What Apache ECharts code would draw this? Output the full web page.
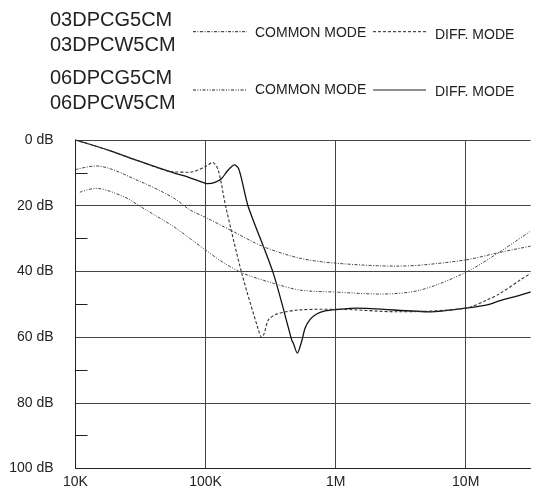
<!DOCTYPE html>
<html>
<head>
<meta charset="utf-8">
<script src="https://cdn.jsdelivr.net/npm/echarts@6/dist/echarts.min.js"></script>
<style>
html,body{margin:0;padding:0;background:#fff;}
#chart{width:535px;height:490px;}
</style>
</head>
<body>
<div id="chart"></div>
<script>
// ---- Data (frequency in Hz, attenuation in dB) ----
// 06DPCG5CM / 06DPCW5CM  DIFF. MODE (solid)
const diff06Freq = [1e4, 1.76e4, 3.17e4, 5.7e4, 7.6e4, 1.0e5, 1.04e5, 1.18e5, 1.33e5, 1.46e5, 1.59e5, 1.67e5, 1.79e5, 1.9e5, 2.13e5, 3.32e5, 4.6e5, 4.73e5, 5.08e5, 5.49e5, 5.82e5, 6.37e5, 7.2e5, 8.3e5, 1.02e6, 1.45e6, 5.4e6, 1e7, 1.46e7, 1.84e7, 2.63e7, 3.16e7];
const diff06Db   = [0, 3.0, 6.6, 10.0, 11.5, 13.2, 13.3, 12.9, 11.7, 9.6, 8.1, 7.6, 8.6, 12.2, 20.3, 40.6, 60.9, 61.9, 64.9, 61.2, 57.3, 54.6, 52.9, 52.0, 51.6, 51.2, 52.3, 51.2, 50.2, 48.9, 47.2, 46.2];

// 03DPCG5CM / 03DPCW5CM  DIFF. MODE (dashed)
const diff03Freq = [1e4, 1.76e4, 3.17e4, 5.7e4, 7.6e4, 1.0e5, 1.13e5, 1.25e5, 1.43e5, 1.9e5, 2.55e5, 2.7e5, 2.83e5, 3.04e5, 3.53e5, 5.33e5, 1.0e6, 3.0e6, 1e7, 1.46e7, 1.84e7, 2.63e7, 3.16e7];
const diff03Db   = [0, 3.0, 6.6, 9.7, 9.8, 8.1, 6.8, 9.1, 20.3, 40.6, 57.8, 60.1, 58.8, 54.8, 53.0, 51.7, 51.5, 52.3, 51.2, 48.7, 46.7, 42.6, 40.6];

// 03DPCG5CM / 03DPCW5CM  COMMON MODE (dash-dot, upper)
const cm03Freq = [1e4, 1.43e4, 3.17e4, 5.7e4, 7.6e4, 1.03e5, 1.64e5, 2.79e5, 5.33e5, 1e6, 2.9e6, 4.47e6, 1e7, 1.84e7, 3.16e7];
const cm03Db   = [9.0, 7.9, 12.7, 17.7, 21.3, 23.8, 27.9, 32.5, 36.0, 37.5, 38.4, 38.1, 36.5, 34.2, 32.3];

// 06DPCG5CM / 06DPCW5CM  COMMON MODE (dash-dot, lower)
const cm06Freq = [1.08e4, 1.43e4, 2.36e4, 3.17e4, 5.7e4, 7.6e4, 1.0e5, 1.37e5, 1.95e5, 3.31e5, 5.33e5, 1e6, 2.2e6, 4.47e6, 1e7, 1.84e7, 3.16e7];
const cm06Db   = [15.9, 14.7, 17.3, 20.3, 26.4, 30.0, 33.5, 37.3, 40.6, 43.6, 45.7, 46.3, 46.9, 45.7, 40.3, 34.0, 27.7];

// Axis ticks
const xTickValues = [1e4, 1e5, 1e6, 1e7];
const xTickLabels = ['10K', '100K', '1M', '10M'];
const xMin = 1e4;
const xMax = Math.pow(10, 7.5);
const yTickValues = [0, 20, 40, 60, 80, 100];
const yUnit = ' dB';

// Legend texts
const partNames = ['03DPCG5CM', '03DPCW5CM', '06DPCG5CM', '06DPCW5CM'];
const modeNames = ['COMMON MODE', 'DIFF. MODE'];

function zip(f, d) { return f.map((v, i) => [v, d[i]]); }

const FONT = '"Liberation Sans", Arial, Helvetica, sans-serif';
const INK = '#222';

const chart = echarts.init(document.getElementById('chart'), null, {renderer: 'canvas'});

function lineG(x1, y1, x2, y2, dash, w) {
  return {type: 'line', shape: {x1, y1, x2, y2},
    style: {stroke: INK, lineWidth: w || 1, lineDash: dash || null}};
}
function textG(x, y, t, size) {
  return {type: 'text', x, y, style: {text: t, fill: INK, fontSize: size, fontFamily: FONT, verticalAlign: 'middle', align: 'left'}};
}

const dashDot1 = [3, 1.5, 1, 1.5];
const dashDot2 = [3, 1.5, 1, 1.5, 1, 1.5];
const dashed = [3, 2];

const option = {
  backgroundColor: '#fff',
  animation: false,
  grid: {left: 75.5, top: 140, right: 4.3, bottom: 21.5, containLabel: false, outerBoundsMode: 'none'},
  xAxis: {
    type: 'log', logBase: 10, min: xMin, max: xMax,
    axisLine: {show: true, onZero: false, lineStyle: {color: INK, width: 1}},
    axisTick: {show: false},
    minorTick: {show: false},
    splitLine: {show: true, showMinLine: false, showMaxLine: false, lineStyle: {color: '#444', width: 1}},
    axisLabel: {
      margin: 7, color: INK, fontSize: 14, fontFamily: FONT,
      showMinLabel: true, showMaxLabel: true,
      formatter: function (v) {
        const lv = Math.log10(v);
        for (let i = 0; i < xTickValues.length; i++) {
          if (Math.abs(Math.log10(xTickValues[i]) - lv) < 1e-6) return xTickLabels[i];
        }
        return '';
      }
    }
  },
  yAxis: {
    type: 'value', inverse: true,
    min: yTickValues[0], max: yTickValues[yTickValues.length - 1], interval: yTickValues[1] - yTickValues[0],
    axisLine: {show: true, onZero: false, lineStyle: {color: INK, width: 1}},
    axisTick: {show: false, inside: true},
    minorTick: {show: true, splitNumber: 2, length: 12, lineStyle: {color: INK, width: 1}},
    splitLine: {show: true, lineStyle: {color: '#444', width: 1}},
    axisLabel: {margin: 22, color: INK, fontSize: 14, fontFamily: FONT,
      formatter: function (v) { return v + yUnit; }}
  },
  series: [
    {name: '06 DIFF. MODE', type: 'line', data: zip(diff06Freq, diff06Db), showSymbol: false, smooth: 0.25,
      lineStyle: {color: '#111', width: 1.3, type: 'solid'}},
    {name: '03 DIFF. MODE', type: 'line', data: zip(diff03Freq, diff03Db), showSymbol: false, smooth: 0.3,
      lineStyle: {color: '#333', width: 1.1, type: dashed}},
    {name: '03 COMMON MODE', type: 'line', data: zip(cm03Freq, cm03Db), showSymbol: false, smooth: 0.3,
      lineStyle: {color: '#444', width: 1, type: dashDot1}},
    {name: '06 COMMON MODE', type: 'line', data: zip(cm06Freq, cm06Db), showSymbol: false, smooth: 0.3,
      lineStyle: {color: '#444', width: 1, type: dashDot2}}
  ],
  graphic: [
    textG(50, 20, partNames[0], 20),
    textG(50, 45, partNames[1], 20),
    textG(50, 78.5, partNames[2], 20),
    textG(50, 103, partNames[3], 20),
    lineG(193, 31.7, 247, 31.7, dashDot1, 1),
    textG(255, 32.7, modeNames[0], 14),
    lineG(373, 31.7, 426, 31.7, dashed, 1),
    textG(435, 35, modeNames[1], 14),
    lineG(193, 90, 247, 90, dashDot2, 1),
    textG(255, 90.5, modeNames[0], 14),
    lineG(373, 90, 426, 90, null, 1.2),
    textG(435, 92.5, modeNames[1], 14)
  ]
};
chart.setOption(option);
</script>
</body>
</html>
